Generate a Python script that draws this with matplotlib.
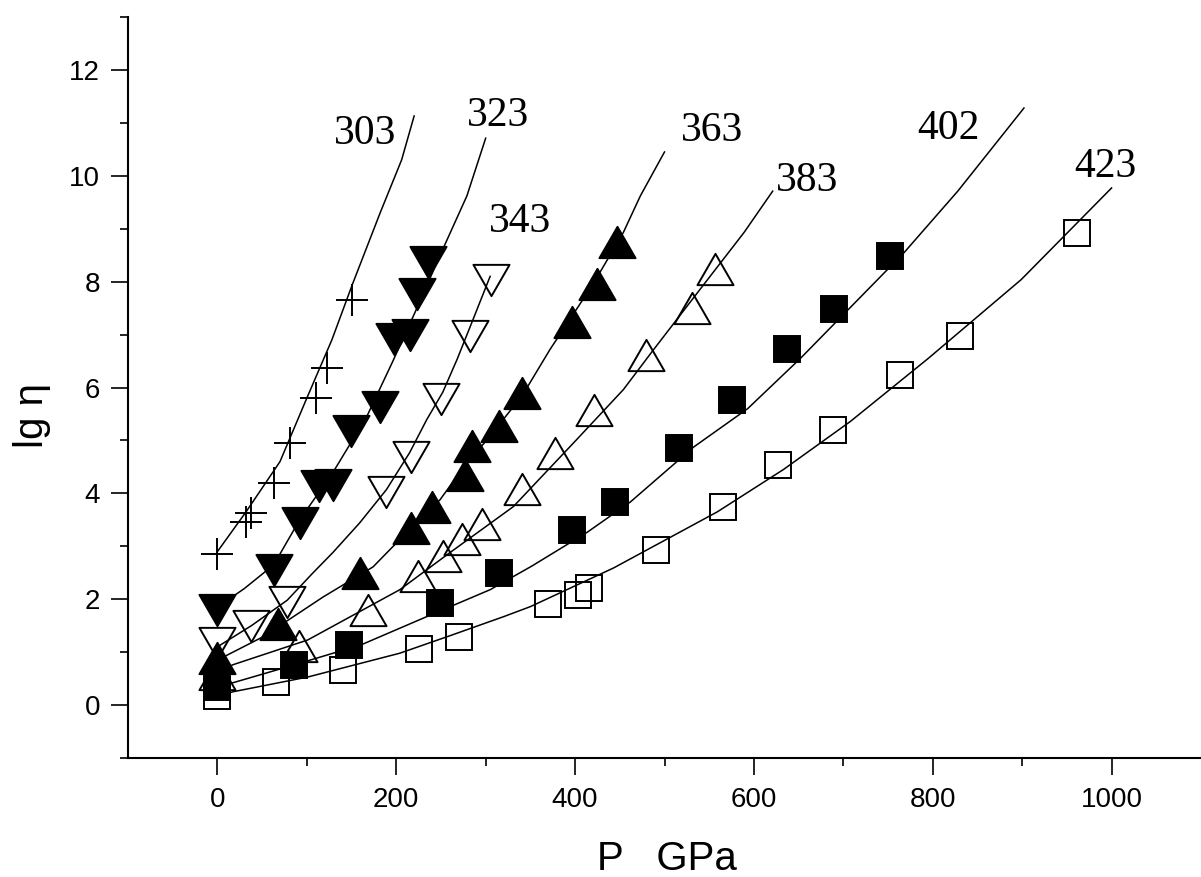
import numpy as np
import matplotlib.pyplot as plt
from matplotlib.path import Path

# temperatures (curve labels)
temps = ['303', '323', '343', '363', '383', '402', '423']

# measured points, P in GPa, lg eta
p_303 = [0, 32, 38, 63, 81, 110, 123, 150]
lg_303 = [2.86, 3.46, 3.62, 4.20, 4.96, 5.81, 6.36, 7.65]

p_323 = [0, 63, 92, 114, 129, 149, 182, 197, 215, 223, 235]
lg_323 = [1.80, 2.56, 3.44, 4.13, 4.16, 5.17, 5.64, 6.91, 7.00, 7.76, 8.37]

p_343 = [0, 38, 78, 189, 217, 250, 283, 306]
lg_343 = [1.17, 1.50, 1.95, 4.03, 4.69, 5.79, 6.97, 8.04]

p_363 = [0, 68, 160, 216, 240, 277, 285, 315, 341, 396, 424, 447]
lg_363 = [0.89, 1.54, 2.49, 3.35, 3.75, 4.35, 4.90, 5.28, 5.90, 7.23, 7.95, 8.74]

p_383 = [0, 91, 168, 224, 252, 274, 296, 341, 377, 421, 479, 531, 557]
lg_383 = [0.58, 1.12, 1.80, 2.44, 2.81, 3.14, 3.43, 4.09, 4.77, 5.58, 6.62, 7.51, 8.23]

p_402 = [0, 86, 147, 249, 315, 397, 445, 516, 576, 637, 690, 752]
lg_402 = [0.34, 0.76, 1.13, 1.93, 2.50, 3.31, 3.84, 4.86, 5.77, 6.72, 7.48, 8.48]

p_423 = [0, 65, 140, 225, 270, 370, 403, 416, 490, 565, 627, 688, 763, 830, 961]
lg_423 = [0.18, 0.44, 0.67, 1.06, 1.28, 1.91, 2.08, 2.21, 2.93, 3.75, 4.54, 5.19, 6.23, 6.97, 8.92]

# fitted curves
fp_303 = [0, 32, 70, 100, 128, 151, 182, 206, 220]
fl_303 = [2.90, 3.65, 4.60, 5.80, 6.90, 7.95, 9.30, 10.30, 11.13]

fp_323 = [0, 30, 63, 92, 129, 167, 196, 221, 252, 279, 300]
fl_323 = [1.85, 2.20, 2.65, 3.50, 4.39, 5.45, 6.49, 7.42, 8.61, 9.62, 10.71]

fp_343 = [0, 38, 78, 107, 129, 159, 189, 215, 234, 252, 268, 286, 305]
fl_343 = [1.10, 1.50, 1.98, 2.50, 2.88, 3.44, 4.07, 4.77, 5.39, 5.91, 6.53, 7.29, 8.10]

fp_363 = [0, 51, 118, 174, 196, 249, 279, 302, 341, 372, 420, 454, 473, 500]
fl_363 = [0.85, 1.29, 2.04, 2.61, 2.99, 3.88, 4.58, 5.02, 5.85, 6.72, 7.95, 8.93, 9.62, 10.45]

fp_383 = [0, 17, 101, 204, 260, 331, 402, 454, 488, 540, 589, 621]
fl_383 = [0.60, 0.76, 1.23, 2.18, 2.88, 3.75, 5.02, 5.96, 6.72, 7.86, 8.93, 9.71]

fp_402 = [0, 17, 86, 161, 234, 305, 352, 414, 462, 533, 593, 652, 768, 828, 902]
fl_402 = [0.36, 0.42, 0.76, 1.14, 1.67, 2.18, 2.63, 3.27, 3.84, 4.88, 5.60, 6.55, 8.55, 9.71, 11.28]

fp_423 = [0, 17, 101, 204, 260, 320, 350, 443, 559, 633, 708, 795, 899, 1000]
fl_423 = [0.15, 0.25, 0.53, 0.98, 1.31, 1.67, 1.86, 2.59, 3.65, 4.45, 5.36, 6.55, 8.04, 9.77]

# where the temperature labels sit
label_xy = [(165, 10.60), (314, 10.94), (339, 8.93), (553, 10.66),
            (659, 9.71), (818, 10.69), (993, 9.98)]

tri_up = Path([(-1, -0.866), (1, -0.866), (0, 0.866), (-1, -0.866)], closed=True)
tri_dn = Path([(-1, 0.866), (1, 0.866), (0, -0.866), (-1, 0.866)], closed=True)

plt.rcParams['font.family'] = ['Liberation Sans', 'DejaVu Sans']

fig = plt.figure(figsize=(12.01, 8.77), dpi=100)
ax = fig.add_axes([128 / 1201, 119 / 877, 1073 / 1201, 741 / 877])

lw = 1.1
mew = 1.4
pts = [(p_303, lg_303), (p_323, lg_323), (p_343, lg_343), (p_363, lg_363),
       (p_383, lg_383), (p_402, lg_402), (p_423, lg_423)]
fits = [(fp_303, fl_303), (fp_323, fl_323), (fp_343, fl_343), (fp_363, fl_363),
        (fp_383, fl_383), (fp_402, fl_402), (fp_423, fl_423)]
styles = [
    dict(marker='+', ms=23, mfc='none'),
    dict(marker=tri_dn, ms=26, mfc='black'),
    dict(marker=tri_dn, ms=26, mfc='none'),
    dict(marker=tri_up, ms=26, mfc='black'),
    dict(marker=tri_up, ms=26, mfc='none'),
    dict(marker='s', ms=19, mfc='black'),
    dict(marker='s', ms=19, mfc='none'),
]

for (fx, fy) in fits:
    ax.plot(fx, fy, color='black', lw=lw, zorder=2)

for (px, py), st in zip(pts, styles):
    ax.plot(px, py, ls='none', color='black', mec='black', mew=mew, zorder=3, **st)

for t, (lx, ly) in zip(temps, label_xy):
    ax.text(lx, ly, t, ha='center', va='baseline', fontsize=30,
            family=['Liberation Serif', 'DejaVu Serif'])

ax.set_xlim(-100, 1100)
ax.set_ylim(-1, 13)
ax.set_xticks(np.arange(0, 1001, 200))
ax.set_xticks(np.arange(100, 1001, 200), minor=True)
ax.set_yticks(np.arange(0, 13, 2))
ax.set_yticks(np.arange(-1, 14, 2), minor=True)

for s in ['top', 'right']:
    ax.spines[s].set_visible(False)
for s in ['left', 'bottom']:
    ax.spines[s].set_linewidth(1.5)

ax.tick_params(which='major', direction='out', length=12, width=1.2, labelsize=20)
ax.tick_params(which='minor', direction='out', length=6, width=1.2)
ax.tick_params(axis='x', which='major', pad=9)
ax.tick_params(axis='y', which='major', pad=8)

ax.set_xlabel('P   GPa', fontsize=29, va='baseline')
ax.xaxis.set_label_coords((667 - 128) / 1073, (758 - 870) / 741)
ax.set_ylabel('lg η', fontsize=29, va='center')
ax.yaxis.set_label_coords((32 - 128) / 1073, (758 - 416) / 741)

fig.savefig('out.png', dpi=100)
